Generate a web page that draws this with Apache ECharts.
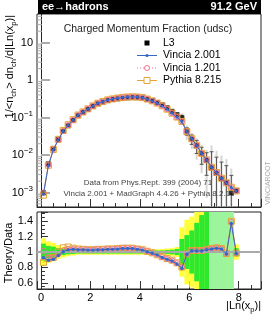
<!DOCTYPE html>
<html><head><meta charset="utf-8">
<script src="https://cdn.jsdelivr.net/npm/echarts@6/dist/echarts.min.js"></script>
<style>html,body{margin:0;padding:0;background:#fff}#c{width:274px;height:320px}</style>
</head><body><div id="c"></div>
<script>
// ---- data ----
const xCenters = [0.1,0.3,0.5,0.7,0.9,1.1,1.3,1.5,1.7,1.9,2.1,2.3,2.5,2.7,2.9,3.1,3.3,3.5,3.7,3.9,
                  4.1,4.3,4.5,4.7,4.9,5.1,5.3,5.5,5.7,5.9,6.1,6.3,6.5,6.7,6.9,7.1,7.3,7.5,7.7,7.9];
const l3Data = [9.84e-4,5.81e-3,0.01503,0.02618,0.04279,0.06019,0.08309,0.1117,0.1359,0.1649,
                0.1980,0.2320,0.2563,0.2831,0.3014,0.3154,0.3263,0.3349,0.3388,0.3382,
                0.3294,0.3068,0.2808,0.2500,0.2183,0.1823,0.1459,0.1195,0.0975,0.0433,
                0.0266,0.01773,0.01084,0.00718,0.00452,0.00324,0.00231,0.00185,0.000985,0.00112];
const vincia2 = [9.1e-4,5.2e-3,0.0136,0.025,0.043,0.062,0.086,0.115,0.140,0.169,
                 0.203,0.239,0.264,0.293,0.312,0.328,0.341,0.350,0.354,0.350,
                 0.338,0.308,0.276,0.240,0.203,0.165,0.129,0.101,0.077,0.042,
                 0.027,0.018,0.011,0.0074,0.0047,0.0034,0.0024,0.0018,0.00135,0.0011];
const vincia1 = [9.99e-4,5.40e-3,0.0139,0.02539,0.04365,0.0626,0.08641,0.1156,0.1407,0.1698,
                 0.2039,0.2401,0.2653,0.2944,0.3135,0.3296,0.3426,0.3516,0.3557,0.3517,
                 0.3393,0.3099,0.278,0.2413,0.2041,0.1659,0.1299,0.1022,0.078,0.0422,
                 0.0271,0.01808,0.01106,0.00743,0.00472,0.00342,0.00241,0.00181,0.001369,0.001103];
const pythia = [8.51e-4,5.32e-3,0.01398,0.02618,0.04514,0.0641,0.08724,0.1162,0.1407,0.1698,
                0.2039,0.2401,0.2653,0.2944,0.3135,0.3296,0.3426,0.3516,0.3557,0.3517,
                0.3393,0.3099,0.278,0.2413,0.2052,0.1668,0.1306,0.1028,0.0785,0.0422,
                0.0271,0.01808,0.01106,0.00743,0.00472,0.00342,0.00241,0.00181,0.001379,0.001103];
const ratioVincia2 = [0.925,0.895,0.905,0.955,1.005,1.03,1.035,1.03,1.03,1.025,
                      1.025,1.03,1.03,1.035,1.035,1.04,1.045,1.045,1.045,1.035,
                      1.026,1.004,0.983,0.96,0.93,0.905,0.884,0.845,0.79,0.97,
                      1.015,1.015,1.015,1.03,1.04,1.05,1.04,0.975,1.37,0.98];
const ratioVincia1 = [1.015,0.93,0.925,0.97,1.02,1.04,1.04,1.035,1.035,1.03,
                      1.03,1.035,1.035,1.04,1.04,1.045,1.05,1.05,1.05,1.04,
                      1.03,1.01,0.99,0.965,0.935,0.91,0.89,0.855,0.80,0.975,
                      1.02,1.02,1.02,1.035,1.045,1.055,1.045,0.98,1.39,0.985];
const ratioPythia = [0.865,0.915,0.93,1.0,1.055,1.065,1.05,1.04,1.035,1.03,
                     1.03,1.035,1.035,1.04,1.04,1.045,1.05,1.05,1.05,1.04,
                     1.03,1.01,0.99,0.965,0.94,0.915,0.895,0.86,0.805,0.975,
                     1.02,1.02,1.02,1.035,1.045,1.055,1.045,0.98,1.40,0.985];
// relative data uncertainties (inner = green, outer = yellow)
const relErrInner = [0.11,0.08,0.07,0.05,0.04,0.03,0.025,0.02,0.02,0.02,
                     0.02,0.02,0.02,0.02,0.02,0.02,0.02,0.02,0.02,0.02,
                     0.02,0.02,0.02,0.02,0.02,0.025,0.03,0.04,0.17,0.22,
                     0.28,0.38,0.48,0.60,1.7,1.7,1.8,1.8,1.9,0.05];
const relErrOuter = [0.18,0.14,0.12,0.09,0.07,0.055,0.045,0.035,0.035,0.035,
                     0.035,0.035,0.035,0.035,0.035,0.035,0.035,0.035,0.035,0.035,
                     0.035,0.035,0.035,0.035,0.04,0.045,0.05,0.065,0.32,0.42,
                     0.46,0.58,0.70,0.90,3.0,3.0,3.2,3.2,3.4,0.10];
const legendNames = ['L3','Vincia 2.001','Vincia 1.201','Pythia 8.215'];

// ---- layout / style ----
const FONT = '"Liberation Sans", Arial, Helvetica, sans-serif';
const X_MIN = -0.16, X_MAX = 8.9;
const Y_MIN = 4.1e-4, Y_MAX = 57.5;
const R_MIN = 0.52, R_MAX = 1.52;
const BIN_HALF = 0.1;
const C_BLUE = '#3466cc', C_PINK = '#f07090', C_ORANGE = '#e6a532';
const C_YELLOW = '#ffff3a', C_GREEN = '#2de82d', C_PALE = '#9cf59c';

const pairs = arr => xCenters.map((x, i) => [x, arr[i]]);
const clampY = v => Math.min(Math.max(v, Y_MIN), Y_MAX);
const clampR = v => Math.min(Math.max(v, R_MIN), R_MAX);

// minor ticks of the log axis (2..9 per decade)
const yMinorTicks = [];
for (let e = -4; e <= 1; e++) for (let m = 2; m <= 9; m++) {
  const v = m * Math.pow(10, e); if (v > Y_MIN && v < Y_MAX) yMinorTicks.push(v);
}

const chart = echarts.init(document.getElementById('c'), null, {renderer: 'canvas', width: 274, height: 320});

function xAxisCommon(idx, showLabels) {
  return {
    type: 'value', gridIndex: idx, min: X_MIN, max: X_MAX, splitNumber: 5,
    axisLine: {show: true, onZero: false, lineStyle: {color: '#222', width: 1}},
    axisTick: {show: true, inside: true, length: 8, lineStyle: {color: '#333'}},
    minorTick: {show: true, splitNumber: 4, length: 4, lineStyle: {color: '#333'}},
    splitLine: {show: false},
    axisLabel: {show: showLabels, showMinLabel: false, showMaxLabel: false, margin: 3,
      fontFamily: FONT, fontSize: 11, color: '#000'}
  };
}

const bandItem = () => function (params, api) {
  const xc = api.value(0), lo = clampR(api.value(1)), hi = clampR(api.value(2));
  const p1 = api.coord([xc - BIN_HALF, hi]);
  const p2 = api.coord([xc + BIN_HALF, lo]);
  return {type: 'rect', shape: {x: p1[0], y: p1[1], width: p2[0] - p1[0], height: p2[1] - p1[1]},
          style: {fill: api.visual('color')}};
};

const yellowBand = xCenters.map((x, i) => [x, 1 - relErrOuter[i], 1 + relErrOuter[i]]);
const greenBand = xCenters.map((x, i) => relErrInner[i] < 1 ? [x, 1 - relErrInner[i], 1 + relErrInner[i]] : [x, 1, 1]);
const paleBand = xCenters.map((x, i) => relErrInner[i] >= 1 ? [x, R_MIN, R_MAX] : [x, 1, 1]);

function mcSeries(name, data, xi, yi, color, symbol, size, hollow, dashed, z) {
  return {
    name, type: 'line', xAxisIndex: xi, yAxisIndex: yi, data: pairs(data),
    symbol, symbolSize: size, showSymbol: true, showAllSymbol: true, z,
    lineStyle: {color, width: 1, type: dashed ? 'dotted' : 'solid'},
    itemStyle: {color: hollow ? 'rgba(255,255,255,0)' : color, borderColor: color, borderWidth: hollow ? 1 : 0},
    emphasis: {disabled: true}, animation: false
  };
}

const option = {
  animation: false,
  backgroundColor: '#fff',
  grid: [
    {left: 37, top: 14, width: 224, height: 193, show: true, borderColor: '#222', borderWidth: 1, backgroundColor: 'transparent'},
    {left: 37, top: 212, width: 224, height: 77, show: true, borderColor: '#222', borderWidth: 1, backgroundColor: 'transparent'}
  ],
  xAxis: [xAxisCommon(0, false), xAxisCommon(1, true)],
  yAxis: [
    {type: 'log', logBase: 10, gridIndex: 0, min: Y_MIN, max: Y_MAX,
     axisLine: {show: true, lineStyle: {color: '#222'}},
     axisTick: {show: true, inside: true, length: 9, lineStyle: {color: '#aaa', width: 2}},
     splitLine: {show: false},
     axisLabel: {showMinLabel: false, showMaxLabel: false, margin: 4, fontFamily: FONT, fontSize: 11, color: '#000',
       formatter: v => { const e = Math.round(Math.log10(v)); if (e === 0) return '1'; if (e === 1) return '10'; return '10{sup|\u2212' + (-e) + '}'; },
       rich: {sup: {fontSize: 8, fontFamily: FONT, color: '#000', padding: [0, 0, 8, 0]}}}},
    {type: 'value', gridIndex: 1, min: R_MIN, max: R_MAX, splitNumber: 5,
     axisLine: {show: true, lineStyle: {color: '#222'}},
     axisTick: {show: true, inside: true, length: 7, lineStyle: {color: '#333'}},
     minorTick: {show: true, splitNumber: 4, length: 4, lineStyle: {color: '#333'}},
     splitLine: {show: false},
     axisLabel: {showMinLabel: false, showMaxLabel: false, margin: 4, fontFamily: FONT, fontSize: 11, color: '#000'}}
  ],
  series: [
    // minor ticks of log axis
    {type: 'custom', xAxisIndex: 0, yAxisIndex: 0, silent: true, z: 5,
     data: yMinorTicks.map(v => [X_MIN, v]),
     renderItem: (params, api) => { const p = api.coord([X_MIN, api.value(1)]);
       return {type: 'line', shape: {x1: p[0], y1: p[1], x2: p[0] + 5, y2: p[1]}, style: {stroke: '#aaa', lineWidth: 1}}; }},
    // data error bars (main)
    {type: 'custom', xAxisIndex: 0, yAxisIndex: 0, silent: true, z: 1,
     data: xCenters.map((x, i) => [x, l3Data[i], relErrInner[i], relErrOuter[i]]),
     renderItem: (params, api) => {
       const x = api.value(0), y = api.value(1), e1 = api.value(2), e2 = api.value(3);
       const lo = e => e >= 1 ? Y_MIN : clampY(y * (1 - e));
       const t2 = api.coord([x, clampY(y * (1 + e2))]), b2 = api.coord([x, lo(e2)]);
       const t1 = api.coord([x, clampY(y * (1 + e1))]), b1 = api.coord([x, lo(e1)]);
       const ch = [
         {type: 'line', shape: {x1: t2[0], y1: t2[1], x2: b2[0], y2: b2[1]}, style: {stroke: '#d6d6d6', lineWidth: 2}},
         {type: 'line', shape: {x1: t1[0], y1: t1[1], x2: b1[0], y2: b1[1]}, style: {stroke: '#555', lineWidth: 1}},
         {type: 'line', shape: {x1: t1[0] - 2, y1: t1[1], x2: t1[0] + 2, y2: t1[1]}, style: {stroke: '#555', lineWidth: 1}}
       ];
       if (e1 < 1) ch.push({type: 'line', shape: {x1: b1[0] - 2, y1: b1[1], x2: b1[0] + 2, y2: b1[1]}, style: {stroke: '#555', lineWidth: 1}});
       return {type: 'group', children: ch};
     }},
    {name: 'L3', type: 'scatter', xAxisIndex: 0, yAxisIndex: 0, data: pairs(l3Data), symbol: 'rect', symbolSize: 5,
     itemStyle: {color: '#000'}, z: 2, emphasis: {disabled: true}},
    mcSeries('Pythia 8.215', pythia, 0, 0, C_ORANGE, 'rect', 6, true, false, 3),
    mcSeries('Vincia 1.201', vincia1, 0, 0, C_PINK, 'circle', 5, true, true, 4),
    mcSeries('Vincia 2.001', vincia2, 0, 0, C_BLUE, 'circle', 3, false, false, 5),
    // ratio panel bands
    {type: 'custom', xAxisIndex: 1, yAxisIndex: 1, silent: true, z: 1, itemStyle: {color: C_YELLOW},
     data: yellowBand, renderItem: bandItem()},
    {type: 'custom', xAxisIndex: 1, yAxisIndex: 1, silent: true, z: 1, itemStyle: {color: C_GREEN},
     data: greenBand, renderItem: bandItem()},
    {type: 'custom', xAxisIndex: 1, yAxisIndex: 1, silent: true, z: 1, itemStyle: {color: C_PALE},
     data: paleBand, renderItem: bandItem(),
     markLine: {silent: true, symbol: 'none', label: {show: false}, lineStyle: {color: '#aaa', width: 2, type: 'solid'},
       data: [{yAxis: 1}]}},
    mcSeries('Pythia 8.215', ratioPythia, 1, 1, C_ORANGE, 'rect', 6, true, false, 3),
    mcSeries('Vincia 1.201', ratioVincia1, 1, 1, C_PINK, 'circle', 5, true, true, 4),
    mcSeries('Vincia 2.001', ratioVincia2, 1, 1, C_BLUE, 'circle', 3.5, false, false, 5)
  ],
  graphic: [
    {type: 'rect', left: 38, top: 0, shape: {width: 223, height: 14}, style: {fill: '#000'}, z: 100},
    {type: 'text', x: 42, y: 7, z: 101, style: {text: 'ee\u2192hadrons', fill: '#fff', font: 'bold 11px ' + FONT, align: 'left', verticalAlign: 'middle', textAlign: 'left', textVerticalAlign: 'middle'}},
    {type: 'text', x: 257, y: 7, z: 101, style: {text: '91.2 GeV', fill: '#fff', font: 'bold 11px ' + FONT, align: 'right', verticalAlign: 'middle', textAlign: 'right', textVerticalAlign: 'middle'}},
    {type: 'text', x: 148, y: 29, z: 101, style: {text: 'Charged Momentum Fraction (udsc)', fill: '#222', font: '10.5px ' + FONT, align: 'center', verticalAlign: 'middle', textAlign: 'center', textVerticalAlign: 'middle'}},
    // legend
    {type: 'rect', x: 144.5, y: 40.5, shape: {width: 5, height: 5}, style: {fill: '#000'}, z: 101},
    {type: 'line', shape: {x1: 137, y1: 55.5, x2: 157, y2: 55.5}, style: {stroke: C_BLUE, lineWidth: 1}, z: 101},
    {type: 'circle', shape: {cx: 147, cy: 55.5, r: 1.6}, style: {fill: C_BLUE}, z: 102},
    {type: 'line', shape: {x1: 137, y1: 68, x2: 157, y2: 68}, style: {stroke: C_PINK, lineWidth: 1, lineDash: [1, 2]}, z: 101},
    {type: 'circle', shape: {cx: 147, cy: 68, r: 2.5}, style: {fill: '#fff', stroke: C_PINK, lineWidth: 1}, z: 102},
    {type: 'line', shape: {x1: 137, y1: 80.5, x2: 157, y2: 80.5}, style: {stroke: C_ORANGE, lineWidth: 1}, z: 101},
    {type: 'rect', shape: {x: 144, y: 77.5, width: 6, height: 6}, style: {fill: '#fff', stroke: C_ORANGE, lineWidth: 1}, z: 102},
    ...legendNames.map((n, i) => ({type: 'text', x: 163, y: [43, 55.5, 68, 80.5][i], z: 101,
      style: {text: n, fill: '#000', font: '10.5px ' + FONT, align: 'left', verticalAlign: 'middle', textAlign: 'left', textVerticalAlign: 'middle'}})),
    // notes
    {type: 'text', x: 148, y: 183, z: 101, style: {text: 'Data from Phys.Rept. 399 (2004) 71', fill: '#444', font: '8px ' + FONT, align: 'center', verticalAlign: 'middle', textAlign: 'center', textVerticalAlign: 'middle'}},
    {type: 'text', x: 149, y: 194, z: 101, style: {text: 'Vincia 2.001 + MadGraph 4.4.26 + Pythia 8.2.15', fill: '#444', font: '8px ' + FONT, align: 'center', verticalAlign: 'middle', textAlign: 'center', textVerticalAlign: 'middle'}},
    {type: 'text', x: 268, y: 183, rotation: Math.PI / 2, z: 101, style: {text: 'VINCIAROOT', fill: '#aaa', font: '7px ' + FONT, align: 'center', verticalAlign: 'middle', textAlign: 'center', textVerticalAlign: 'middle'}},
    // axis titles
    {type: 'text', x: 10, y: 15, rotation: Math.PI / 2, z: 101,
     style: {text: '1/<n{s|ch}> dn{s|ch}/d|Ln(x{s|p})|', fill: '#000', font: '11px ' + FONT, align: 'right', verticalAlign: 'middle', textAlign: 'right', textVerticalAlign: 'middle',
       rich: {s: {fontSize: 7.5, fontFamily: FONT, fill: '#000', color: '#000', padding: [8, 0, 0, 0]}}}},
    {type: 'text', x: 9, y: 253, rotation: Math.PI / 2, z: 101,
     style: {text: 'Theory/Data', fill: '#000', font: '11px ' + FONT, align: 'center', verticalAlign: 'middle', textAlign: 'center', textVerticalAlign: 'middle'}},
    {type: 'text', x: 261, y: 298, z: 101,
     style: {text: '|Ln(x{s|p})|', fill: '#000', font: '11px ' + FONT, align: 'right', verticalAlign: 'top', textAlign: 'right', textVerticalAlign: 'top',
       rich: {s: {fontSize: 7.5, fontFamily: FONT, fill: '#000', color: '#000', padding: [8, 0, 0, 0]}}}}
  ]
};
chart.setOption(option);
</script></body></html>
